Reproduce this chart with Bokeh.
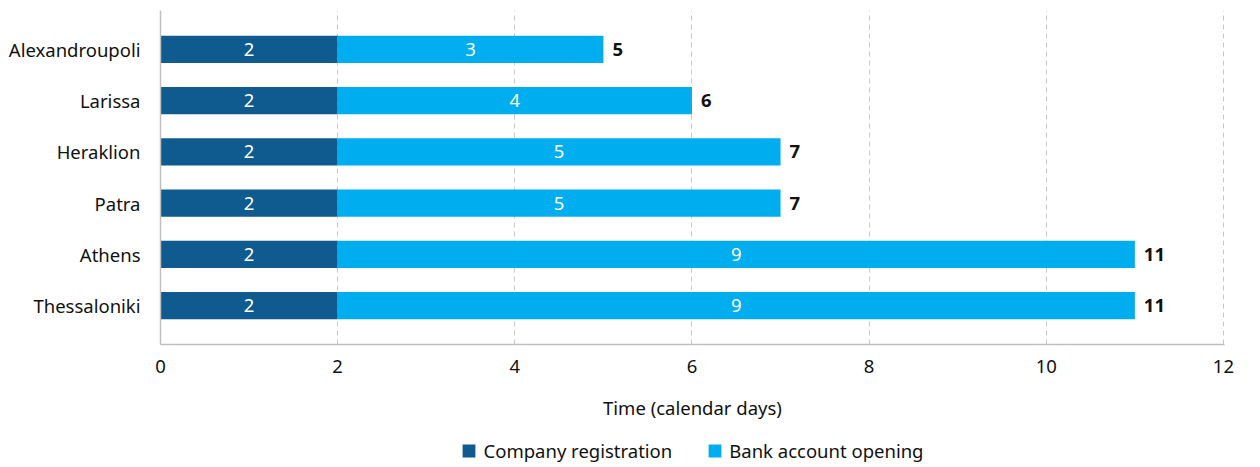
from bokeh.plotting import figure
from bokeh.layouts import column
from bokeh.models import ColumnDataSource, Range1d, Legend, LegendItem, FixedTicker, LabelSet
from bokeh.embed import file_html
from bokeh.resources import INLINE
from bokeh.core.properties import value

cities = ["Alexandroupoli", "Larissa", "Heraklion", "Patra", "Athens", "Thessaloniki"]
company_registration = [2, 2, 2, 2, 2, 2]
bank_account_opening = [3, 4, 5, 5, 9, 9]
x_ticks = [0, 2, 4, 6, 8, 10, 12]
series_names = ["Company registration", "Bank account opening"]

FONT = "Noto Sans"
FS = "18.5px"
DARK = "#0F5A8F"
LIGHT = "#00AEEF"
n = len(cities)
ypos = [n - 1 - i for i in range(n)]
totals = [a + b for a, b in zip(company_registration, bank_account_opening)]

src = ColumnDataSource(dict(
    y=ypos,
    reg=company_registration,
    bank=bank_account_opening,
    tot=totals,
    reg_mid=[r / 2 for r in company_registration],
    bank_mid=[r + b / 2 for r, b in zip(company_registration, bank_account_opening)],
    reg_lbl=[str(v) for v in company_registration],
    bank_lbl=[str(v) for v in bank_account_opening],
    tot_lbl=[str(v) for v in totals],
))

p = figure(width=1260, height=438, output_backend="svg", toolbar_location=None,
           x_range=Range1d(0, x_ticks[-1] + 0.012), y_range=Range1d(-0.76, n - 1 + 0.76),
           min_border_left=160, min_border_right=19, min_border_top=10, min_border_bottom=94)
p.outline_line_color = None
p.background_fill_color = "white"

p.hbar(y="y", left=0, right="reg", height=0.53, color=DARK, line_color=None, source=src)
p.hbar(y="y", left="reg", right="tot", height=0.53, color=LIGHT, line_color=None, source=src)

for col, xcol in (("reg_lbl", "reg_mid"), ("bank_lbl", "bank_mid")):
    p.add_layout(LabelSet(x=xcol, y="y", text=col, source=src, text_color="white",
                          text_align="center", text_baseline="middle",
                          text_font=value(FONT), text_font_size=FS))
p.add_layout(LabelSet(x="tot", y="y", text="tot_lbl", source=src, x_offset=9,
                      text_color="#111111", text_align="left", text_baseline="middle",
                      text_font=value(FONT), text_font_size=FS, text_font_style="bold"))

# axes
p.xaxis.ticker = FixedTicker(ticks=x_ticks)
p.yaxis.ticker = FixedTicker(ticks=ypos)
p.yaxis.major_label_overrides = {y: c for y, c in zip(ypos, cities)}
for ax in (p.xaxis[0], p.yaxis[0]):
    ax.axis_line_color = "#BFBFBF"
    ax.axis_line_width = 1.5
    ax.major_tick_line_color = None
    ax.minor_tick_line_color = None
    ax.major_label_text_font = FONT
    ax.major_label_text_font_size = FS
    ax.major_label_text_color = "#111111"
p.yaxis.major_label_standoff = 14
p.xaxis.major_label_standoff = 9
p.xaxis.axis_label = "Time (calendar days)"
p.xaxis.axis_label_text_font = FONT
p.xaxis.axis_label_text_font_size = FS
p.xaxis.axis_label_text_font_style = "normal"
p.xaxis.axis_label_text_color = "#111111"
p.xaxis.axis_label_standoff = 19

p.ygrid.grid_line_color = None
p.xgrid.grid_line_color = "#C8C8C8"
p.xgrid.grid_line_dash = "5 4"
p.xgrid.grid_line_width = 1

# legend strip below the chart (zero-width swatch renderers, only used for the legend)
lg = figure(width=1260, height=24, output_backend="svg", toolbar_location=None,
            x_range=Range1d(0, 1), y_range=Range1d(0, 1),
            min_border_left=160, min_border_right=36, min_border_top=0, min_border_bottom=0)
lg.outline_line_color = None
lg.axis.visible = False
lg.grid.visible = False
d1 = lg.hbar(y=[0.5], left=[0], right=[0], height=0.5, color=DARK, line_color=None)
d2 = lg.hbar(y=[0.5], left=[0], right=[0], height=0.5, color=LIGHT, line_color=None)
legend = Legend(items=[LegendItem(label=series_names[0], renderers=[d1]),
                       LegendItem(label=series_names[1], renderers=[d2])],
                orientation="horizontal", location="center",
                glyph_width=16, glyph_height=16, label_standoff=7, spacing=34,
                label_text_font=FONT, label_text_font_size=FS, label_text_color="#111111",
                border_line_color=None, background_fill_alpha=0, padding=0, margin=0)
lg.add_layout(legend, "center")

layout = column(p, lg, spacing=0)
open("out.html", "w").write(file_html(layout, INLINE))
